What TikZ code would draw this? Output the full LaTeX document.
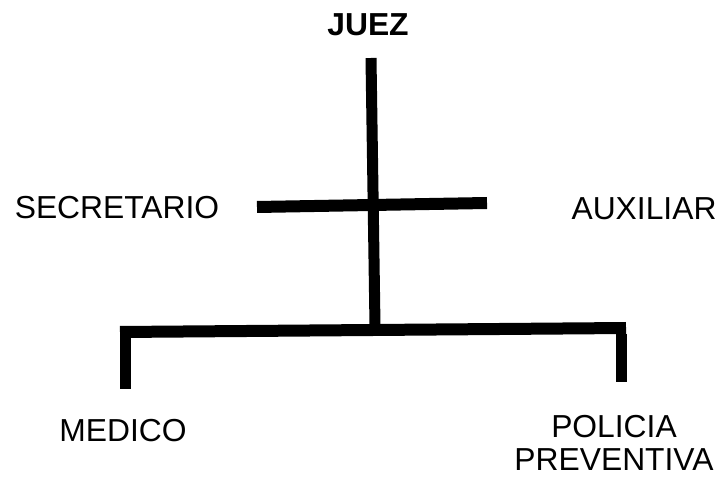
\documentclass[tikz,border=0pt]{standalone}
\usepackage{fontspec}
\setmainfont{Liberation Sans}
\begin{document}
\begin{tikzpicture}[x=1pt,y=-1pt,
  lbl/.style={anchor=base,inner sep=0pt,font=\fontsize{31.8}{35}\selectfont},
  bar/.style={line width=11pt,black}]
\useasboundingbox (0,0) rectangle (723,478);
\node[lbl,font=\fontsize{31.8}{35}\selectfont\bfseries] (juez) at (368,36) {JUEZ};
\node[lbl] (sec) at (117,219) {SECRETARIO};
\node[lbl] (aux) at (644,220) {AUXILIAR};
\node[lbl] (med) at (123,441) {MEDICO};
\node[lbl] (pol) at (614,437) {POLICIA};
\node[lbl] (pre) at (614,470) {PREVENTIVA};
\coordinate (vt) at (371,58);
\coordinate (vb) at (375,326);
\coordinate (hl) at (257,207);
\coordinate (hr) at (487,203);
\coordinate (bl) at (120,332);
\coordinate (br) at (626,328);
\coordinate (ld) at (125.5,389);
\coordinate (rd) at (621,382);
\draw[bar] (vt) -- (vb);
\draw[bar,line width=12pt] (hl) -- (hr);
\draw[bar,line width=12pt] (bl) -- (br);
\draw[bar] ([yshift=-6pt]bl -| ld) -- (ld);
\draw[bar] ([yshift=-6pt]br -| rd) -- (rd);
\end{tikzpicture}
\end{document}
